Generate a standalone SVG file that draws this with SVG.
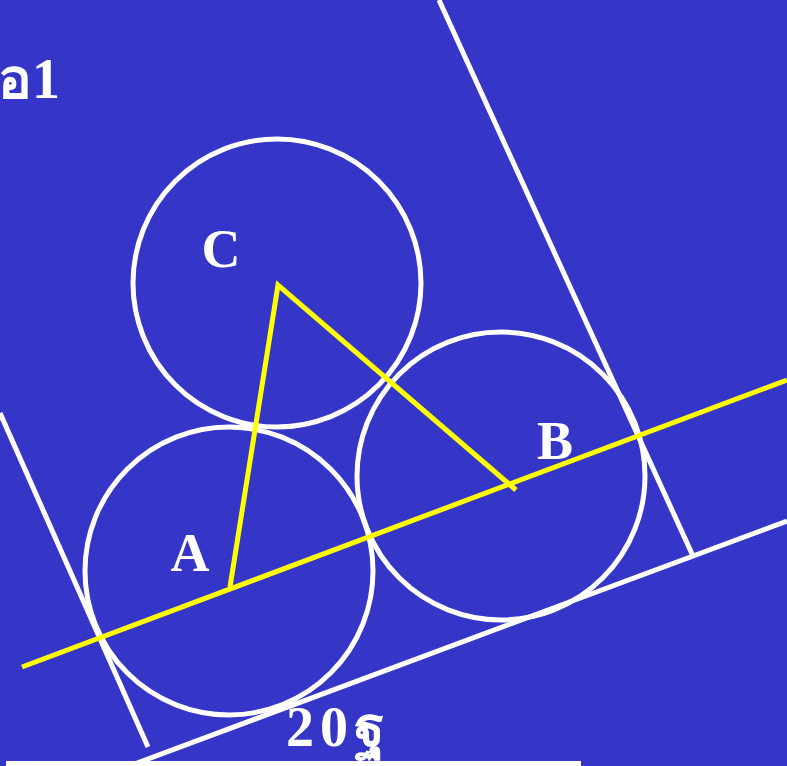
<svg xmlns="http://www.w3.org/2000/svg" width="787" height="766" viewBox="0 0 787 766">
<style>
.w{fill:none;stroke:#fff;stroke-width:5}
.y{fill:none;stroke:#ffff00;stroke-width:5}
.t{font-family:"Liberation Serif","DejaVu Serif",serif;font-weight:bold;fill:#fff}
</style>
<rect width="787" height="766" fill="#3535c8"/>
<g id="frame">
<line class="w" x1="0" y1="413" x2="148" y2="747"/>
<line class="w" x1="439" y1="0" x2="693" y2="556"/>
<line class="w" x1="129" y1="766" x2="787" y2="521"/>
</g>
<g id="circleC"><circle class="w" cx="277" cy="283" r="144"/><text class="t" x="221" y="267" font-size="54" text-anchor="middle">C</text></g>
<g id="circleA"><circle class="w" cx="229" cy="571" r="144"/><text class="t" x="190" y="571" font-size="54" text-anchor="middle">A</text></g>
<g id="circleB"><circle class="w" cx="501" cy="476" r="144"/><text class="t" x="555" y="459" font-size="54" text-anchor="middle">B</text></g>
<g id="connectors">
<line class="y" x1="22" y1="667" x2="787" y2="380"/>
<polyline class="y" points="230,587 278,285 516,490"/>
</g>
<g id="labels">
<text class="t" x="60" y="98" font-size="56" text-anchor="end">อ1</text>
<text class="t" x="286" y="746" font-size="56" letter-spacing="6">20ฐ</text>
</g>
<rect x="6" y="761" width="575" height="5" fill="#fff"/>
</svg>
